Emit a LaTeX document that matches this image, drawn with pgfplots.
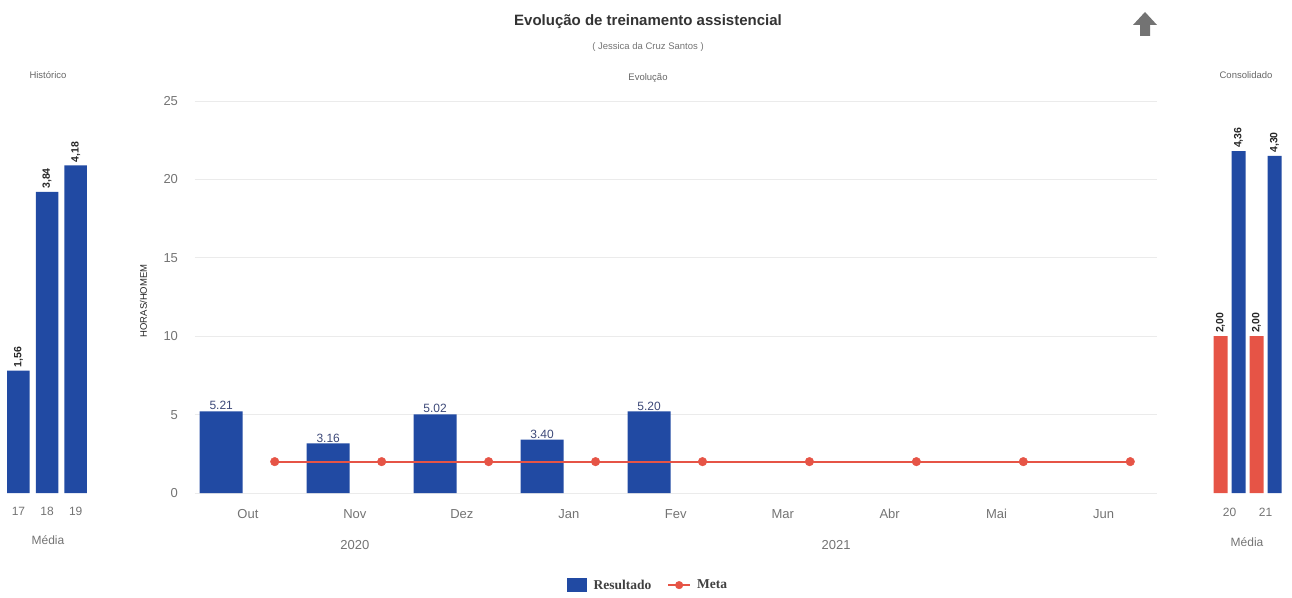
\documentclass[border=0pt]{standalone}
\usepackage{pgfplots}
\pgfplotsset{compat=1.18}
\usepackage{fontspec}
\setmainfont{Liberation Sans}
\newfontfamily\legfont{Liberation Serif}
\definecolor{barblue}{RGB}{33,74,163}
\definecolor{metared}{RGB}{230,84,70}
\definecolor{ticktext}{RGB}{115,115,115}
\definecolor{vallab}{RGB}{60,72,120}
\pgfplotstableread{
x y
0.25 2
1.25 2
2.25 2
3.25 2
4.25 2
5.25 2
6.25 2
7.25 2
8.25 2
}\metadata
\begin{document}
\begin{tikzpicture}[x=1pt,y=1pt]
\path[use as bounding box] (0,0) rectangle (1292,597);
% titles
\node[font=\bfseries\fontsize{15}{15}\selectfont, text=black!80] at (648,575) {Evolução de treinamento assistencial};
\node[font=\fontsize{9.5}{9.5}\selectfont, text=black!55] at (648,550) {( Jessica da Cruz Santos )};
\node[font=\fontsize{9.5}{9.5}\selectfont, text=black!60] at (648,519) {Evolução};
\node[font=\fontsize{9.5}{9.5}\selectfont, text=black!60] at (48,522) {Histórico};
\node[font=\fontsize{9.5}{9.5}\selectfont, text=black!60] at (1246,522) {Consolidado};
\node[font=\fontsize{12}{12}\selectfont, text=ticktext] at (48,57) {Média};
\node[font=\fontsize{12}{12}\selectfont, text=ticktext] at (1247,55) {Média};
% arrow icon
\fill[black!55] (1133,572) -- (1145,585) -- (1157,572) -- (1150,572) -- (1150,561) -- (1140,561) -- (1140,572) -- cycle;

% main axis
\begin{axis}[
  at={(194.5pt,104pt)}, anchor=south west, scale only axis,
  width=962.5pt, height=392pt,
  xmin=-0.5, xmax=8.5, ymin=0, ymax=25,
  xtick={0,...,8}, xticklabels={Out,Nov,Dez,Jan,Fev,Mar,Abr,Mai,Jun},
  ytick={0,5,...,25},
  axis line style={draw=none},
  major tick length=0pt,
  ymajorgrids, grid style={black!8, line width=0.8pt},
  tick label style={font=\fontsize{13}{13}\selectfont, text=ticktext},
  xticklabel style={yshift=-13pt},
  yticklabel style={xshift=-13pt},
  /pgf/number format/assume math mode=true,
  ylabel={HORAS/HOMEM},
  every axis y label/.style={at={(axis description cs:-0.053,0.49)}, rotate=90, anchor=center,
     font=\fontsize{9.5}{9.5}\selectfont, text=black!85},
  clip=false,
  legend style={at={(0.471,-0.235)}, anchor=center, draw=none, fill=none,
     legend columns=2, font=\legfont\bfseries\fontsize{13.5}{13.5}\selectfont, text=black!75,
     /tikz/every even column/.append style={column sep=14pt}},
]
\addplot[ybar, bar shift=0pt, bar width=43pt, fill=barblue, draw=none,
  legend image code/.code={\fill[barblue] (0pt,-7pt) rectangle (20pt,7pt); \path[draw=none,fill=none] (0pt,0pt) -- (25pt,0pt);},
  nodes near coords,
  nodes near coords style={font=\fontsize{12}{12}\selectfont, text=vallab, anchor=south, inner sep=1pt,
     /pgf/number format/.cd, fixed, zerofill, precision=2, assume math mode=true}]
  coordinates {(-0.25,5.21) (0.75,3.16) (1.75,5.02) (2.75,3.40) (3.75,5.20)};
\addlegendentry{Resultado}
\addplot[forget plot, sharp plot, mark=none, draw=metared, line width=1.8pt] table[x=x,y=y] {\metadata};
\addplot[forget plot, only marks, mark=*, mark size=4.3pt, mark options={fill=metared, draw=metared}] table[x=x,y=y] {\metadata};
\addlegendimage{legend image code/.code={\draw[draw=metared, line width=1.6pt] (0pt,0pt) -- (22pt,0pt); \fill[metared] (11pt,0pt) circle (3.8pt); \path[draw=none,fill=none] (0pt,0pt) -- (27pt,0pt);}}
\addlegendentry{Meta}
\node[font=\fontsize{13}{13}\selectfont, text=ticktext] at (axis cs:1,-3.3) {2020};
\node[font=\fontsize{13}{13}\selectfont, text=ticktext] at (axis cs:5.5,-3.3) {2021};
\end{axis}

% left panel
\begin{axis}[
  at={(4.2pt,104pt)}, anchor=south west, scale only axis,
  width=85.8pt, height=392pt,
  xmin=16.5, xmax=19.5, ymin=0, ymax=5,
  axis y line=none, axis x line*=bottom, x axis line style={draw=none},
  xtick={17,18,19}, major tick length=0pt,
  tick label style={font=\fontsize{12}{12}\selectfont, text=ticktext},
  xticklabel style={yshift=-11pt},
  /pgf/number format/assume math mode=true,
  clip=false,
]
\addplot[ybar, bar shift=0pt, bar width=22.5pt, fill=barblue, draw=none,
  nodes near coords,
  nodes near coords style={font=\bfseries\fontsize{10.5}{10.5}\selectfont, text=black!85, rotate=90, anchor=west, inner sep=3pt,
     /pgf/number format/.cd, fixed, zerofill, precision=2, use comma, assume math mode=true}]
  coordinates {(17,1.56) (18,3.84) (19,4.18)};
\end{axis}

% right panel
\begin{axis}[
  at={(1211.5pt,104pt)}, anchor=south west, scale only axis,
  width=72pt, height=392pt,
  xmin=19.5, xmax=21.5, ymin=0, ymax=5,
  axis y line=none, axis x line*=bottom, x axis line style={draw=none},
  xtick={20,21}, major tick length=0pt,
  tick label style={font=\fontsize{12}{12}\selectfont, text=ticktext},
  xticklabel style={yshift=-12pt},
  /pgf/number format/assume math mode=true,
  clip=false,
]
\addplot[ybar, bar shift=0pt, bar width=14pt, fill=metared, draw=none,
  nodes near coords,
  nodes near coords style={font=\bfseries\fontsize{10.5}{10.5}\selectfont, text=black!85, rotate=90, anchor=west, inner sep=3pt,
     /pgf/number format/.cd, fixed, zerofill, precision=2, use comma, assume math mode=true}]
  coordinates {(19.75,2.00) (20.75,2.00)};
\addplot[ybar, bar shift=0pt, bar width=14pt, fill=barblue, draw=none,
  nodes near coords,
  nodes near coords style={font=\bfseries\fontsize{10.5}{10.5}\selectfont, text=black!85, rotate=90, anchor=west, inner sep=3pt,
     /pgf/number format/.cd, fixed, zerofill, precision=2, use comma, assume math mode=true}]
  coordinates {(20.25,4.36) (21.25,4.30)};
\end{axis}
\end{tikzpicture}
\end{document}
